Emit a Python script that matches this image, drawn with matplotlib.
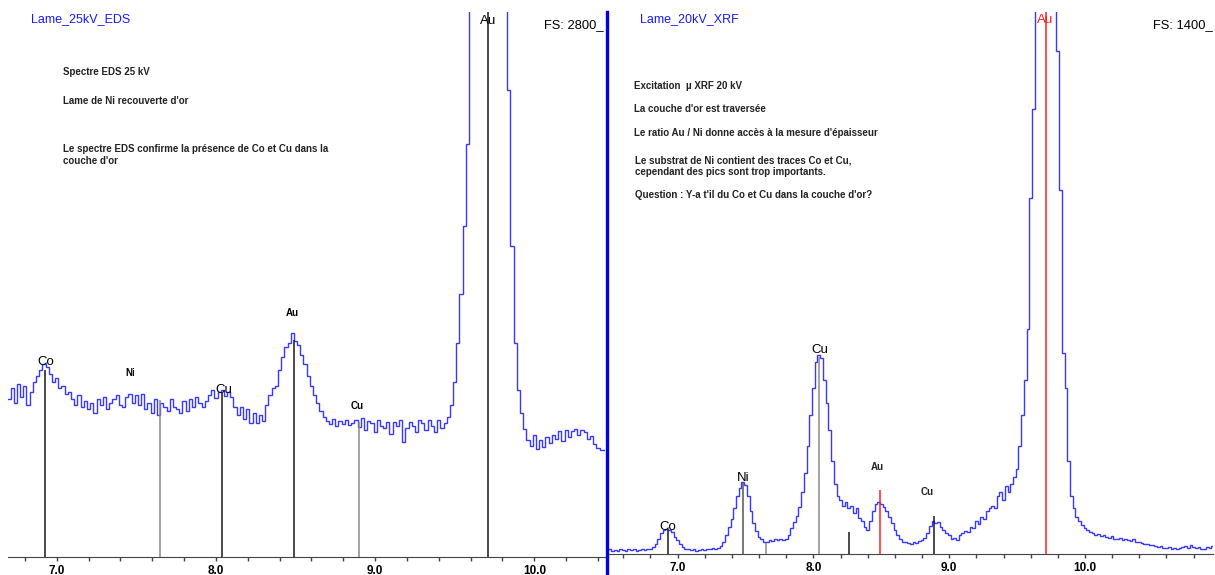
import numpy as np
import matplotlib.pyplot as plt
from matplotlib.lines import Line2D

plt.rcParams['font.family'] = ['Liberation Sans', 'DejaVu Sans']

W, H = 1215, 575
step = 0.02  # largeur de canal (keV)

# ---------------- spectre EDS 25 kV ----------------
eds_start = 6.70
eds_fs = 2800
eds_counts = [
    810, 870, 790, 890, 820, 880, 780, 850, 900,
    930, 960, 990, 975, 940, 900, 920, 870, 880, 840, 850,
    810, 780, 830, 770, 800, 760, 790, 740, 810, 780, 820, 760, 790, 810, 830,
    780, 770, 820, 840, 790, 830, 780, 840, 760, 790, 740, 810, 730, 790, 770,
    750, 810, 770, 760, 740, 800, 750, 810, 770, 820, 790, 770, 800,
    830, 860, 815, 850, 860, 825, 850, 820,
    770, 730, 770, 710, 760, 690, 740, 690, 730, 700,
    780, 830, 870, 880, 960, 1030, 1080, 1100, 1150, 1110, 1090, 1040, 990, 930,
    880, 830, 790, 750, 720,
    700, 685, 710, 675, 700, 685, 705, 680, 690, 705, 670, 715, 650, 700, 690,
    640, 705, 675, 665, 695, 630, 695, 675, 705, 590, 665, 695, 675, 640, 705,
    690, 650, 705, 675, 640, 705, 665, 690,
    720, 780, 900, 1100, 1350, 1700, 2120,
    2900, 3800, 4800, 5600, 6000, 6200, 6000, 5500, 4800, 4000, 3300,
    2900, 2400, 1600, 1100, 860, 740, 660,
    600, 570, 625, 555, 600, 565, 615, 585, 625,
    605, 645, 595, 655, 615, 645, 660, 625, 655, 640, 605, 620,
    580, 560, 550, 550,
]
eds_lines_E = [6.925, 7.65, 8.04, 8.49, 8.90, 9.71]
eds_lines_top = [961, 807, 843, 1115, 694, 2800]
eds_labels = ['Co', 'Ni', 'Cu', 'Au', 'Cu', 'Au']
eds_label_E = [6.93, 7.46, 8.05, 8.48, 8.89, 9.71]
eds_label_y = [1002, 945, 858, 1254, 776, 2755]
eds_ticks = [6.8, 7.0, 7.2, 7.4, 7.6, 7.8, 8.0, 8.2, 8.4, 8.6, 8.8, 9.0,
             9.2, 9.4, 9.6, 9.8, 10.0, 10.2, 10.4]

# ---------------- spectre µXRF 20 kV ----------------
xrf_start = 6.48
xrf_fs = 1400
xrf_counts = [
    10, 12, 8, 11, 9, 13, 10, 8, 12, 10, 14, 9, 11, 13, 10, 12,
    12, 18, 25, 40, 55, 62, 65, 62, 58, 45, 35, 25, 18, 14,
    12, 10, 13, 9, 11, 12, 10, 14, 12, 15, 13, 16,
    20, 30, 50, 70, 90, 120, 150, 170, 185, 178, 150, 110, 80, 60, 45, 38, 32,
    30, 36, 33, 38, 35, 40, 37,
    40, 50, 68, 82, 98, 122, 160, 210, 280, 360, 430, 495, 515, 505, 450,
    390, 320, 240, 180, 150, 140, 125, 135, 118, 125, 105, 118, 92, 85, 70,
    62, 85, 110, 130, 135, 128, 122, 110, 95, 80, 62, 48, 38, 30, 32,
    28, 26, 30, 29, 33, 36, 42, 55, 72, 84, 80, 82, 70, 62, 55, 48, 40, 42, 36, 48, 55,
    60, 58, 70, 66, 85, 78, 95, 90, 110, 118, 125, 118, 150, 160, 140, 175,
    160, 180, 200, 220, 280, 360,
    450, 580, 920, 1150, 1600, 2100, 2600, 2900, 3000, 2800, 2300, 1700, 1300, 940, 520,
    430, 240, 150, 120, 95, 85, 75, 68, 62, 58, 55, 50, 52, 46, 49,
    44, 42, 46, 40, 38, 42, 36, 40, 35, 33, 38, 32, 30, 28, 25,
    27, 22, 24, 20, 18, 21, 16, 15, 18, 14, 16, 13, 15, 18, 20,
    16, 22, 17, 15, 19, 14, 12, 18, 15, 20,
]
xrf_lines_E = [6.93, 7.48, 7.65, 8.04, 8.26, 8.49, 8.89, 9.71]
xrf_lines_top = [62, 186, 28, 509, 57, 165, 98, 1400]
xrf_labels = ['Co', 'Ni', 'Cu', 'Au', 'Cu', 'Au']
xrf_label_E = [6.93, 7.48, 8.05, 8.47, 8.84, 9.71]
xrf_label_y = [70, 196, 527, 225, 160, 1380]
xrf_ticks = [6.6, 6.8, 7.0, 7.2, 7.4, 7.6, 7.8, 8.0, 8.2, 8.4, 8.6, 8.8, 9.0,
             9.2, 9.4, 9.6, 9.8, 10.0, 10.2, 10.4, 10.6, 10.8]

BLEU = '#3838ff'
NOIR = '#1a1a1a'
GRIS = '#8a8a8a'
ROUGE = '#ff2020'


def panneau(ax, start, counts, fs, xlim, ticks, lines_E, lines_top, lines_col,
            labels, lab_E, lab_y, lab_big, lab_col):
    edges = start - step / 2 + step * np.arange(len(counts) + 1)
    ax.stairs(counts, edges, color=BLEU, lw=1.0, baseline=None)
    ax.vlines(lines_E, 0, lines_top, colors=lines_col, lw=1.1)
    for lab, e, y, big, c in zip(labels, lab_E, lab_y, lab_big, lab_col):
        if big:
            ax.text(e, y, lab, ha='center', va='center', fontsize=9.5, color=c)
        else:
            ax.text(e, y, lab, ha='center', va='center', fontsize=7,
                    fontweight='bold', color=c)
    ax.set_xlim(*xlim)
    ax.set_ylim(0, fs)
    ax.set_yticks([])
    ax.set_xticks(ticks)
    ax.set_xticklabels(['%.1f' % t if abs(t - round(t)) < 1e-6 else '' for t in ticks])
    ax.tick_params(axis='x', length=3, width=1, color='#444444', pad=2.5,
                   labelsize=8.5)
    for t in ax.get_xticklabels():
        t.set_fontweight('bold')
    for s in ['top', 'left', 'right']:
        ax.spines[s].set_visible(False)
    ax.spines['bottom'].set_color('#444444')
    ax.patch.set_alpha(0)


fig = plt.figure(figsize=(W / 100, H / 100), dpi=100)

ax1 = fig.add_axes([8 / W, 18 / H, 597 / W, 545 / H])
panneau(ax1, eds_start, eds_counts, eds_fs, (6.694, 10.444), eds_ticks,
        eds_lines_E, eds_lines_top,
        [NOIR, GRIS, NOIR, NOIR, GRIS, NOIR],
        eds_labels, eds_label_E, eds_label_y,
        [True, False, True, False, False, True],
        ['black'] * 6)

ax2 = fig.add_axes([608 / W, 21 / H, 605 / W, 542 / H])
panneau(ax2, xrf_start, xrf_counts, xrf_fs, (6.487, 10.943), xrf_ticks,
        xrf_lines_E, xrf_lines_top,
        [NOIR, '#555555', GRIS, GRIS, NOIR, ROUGE, NOIR, ROUGE],
        xrf_labels, xrf_label_E, xrf_label_y,
        [True, True, True, False, False, True],
        ['black', 'black', 'black', '#222222', '#222222', ROUGE])

# séparation bleue entre les deux spectres
fig.add_artist(Line2D([606.5 / W, 606.5 / W], [1 - 12 / H, 1 - 574 / H],
                      transform=fig.transFigure, color='#0000e0', lw=2.4))

def ftext(x, y, s, **kw):
    fig.text(x / W, 1 - y / H, s, va='center', ha='left', **kw)

# titres et pleine échelle
ftext(31, 19, 'Lame_25kV_EDS', fontsize=9, color='#1a1aff')
ftext(640, 19, 'Lame_20kV_XRF', fontsize=9, color='#1a1aff')
fig.text(604 / W, 1 - 25 / H, 'FS: 2800_', ha='right', va='center', fontsize=9.3)
fig.text(1213 / W, 1 - 25 / H, 'FS: 1400_', ha='right', va='center', fontsize=9.3)

# commentaires
note = dict(fontsize=7.0, fontweight='bold', color='#222222')
ftext(63, 72, 'Spectre EDS 25 kV', **note)
ftext(63, 101, "Lame de Ni recouverte d'or", **note)
ftext(63, 155, "Le spectre EDS confirme la présence de Co et Cu dans la\ncouche d'or",
      linespacing=1.2, **note)
ftext(634, 86, 'Excitation  µ XRF 20 kV', **note)
ftext(634, 109, "La couche d'or est traversée", **note)
ftext(634, 133, "Le ratio Au / Ni donne accès à la mesure d'épaisseur", **note)
ftext(635, 166, "Le substrat de Ni contient des traces Co et Cu,\ncependant des pics sont trop importants.",
      linespacing=1.2, **note)
ftext(635, 195, "Question : Y-a t'il du Co et Cu dans la couche d'or?", **note)

fig.savefig('out.png', dpi=100)
